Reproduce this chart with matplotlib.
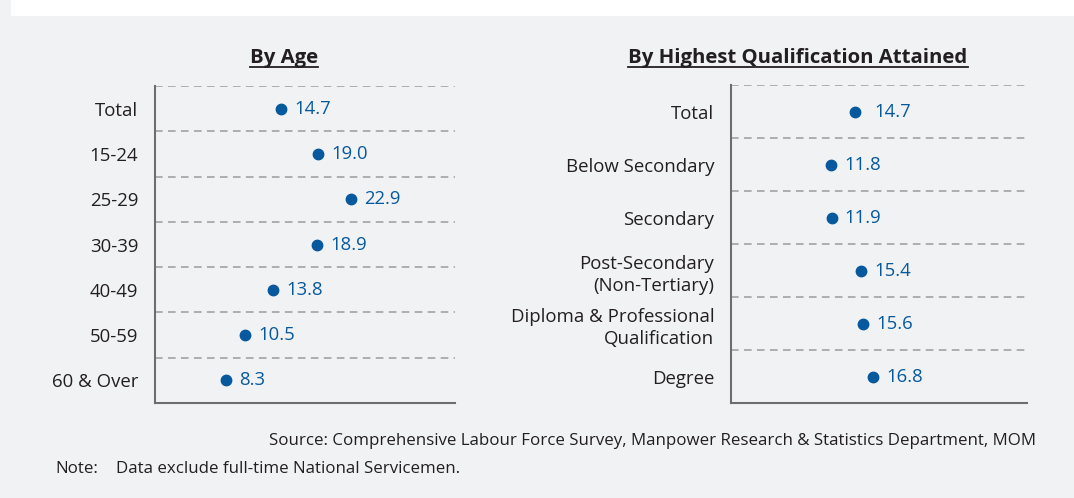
import matplotlib.pyplot as plt
from matplotlib.lines import Line2D
from matplotlib.patches import Rectangle

plt.rcParams['font.family'] = ['Open Sans', 'DejaVu Sans']

# data
age_groups = ['Total', '15-24', '25-29', '30-39', '40-49', '50-59', '60 & Over']
age_values = [14.7, 19.0, 22.9, 18.9, 13.8, 10.5, 8.3]

qual_groups = ['Total', 'Below Secondary', 'Secondary',
               'Post-Secondary\n(Non-Tertiary)',
               'Diploma & Professional\nQualification', 'Degree']
qual_values = [14.7, 11.8, 11.9, 15.4, 15.6, 16.8]

BG = '#f1f2f4'
BLUE = '#07599d'
TXT = '#231f20'
GRID = '#9a9b9d'
SPINE = '#6d6e71'

fig = plt.figure(figsize=(10.74, 4.98), dpi=100, facecolor=BG)
# white band across the top
fig.patches.append(Rectangle((11 / 1074, 1 - 16 / 498), 1, 16 / 498,
                             transform=fig.transFigure, facecolor='white',
                             edgecolor='none', zorder=0))


def dot_panel(rect, cats, vals, label_offsets=None):
    ax = fig.add_axes(rect)
    ax.set_facecolor(BG)
    n = len(cats)
    ys = [i + 0.5 for i in range(n)]
    ax.plot(vals, ys, 'o', color=BLUE, ms=7.5, zorder=3)
    for i, (v, y) in enumerate(zip(vals, ys)):
        off = label_offsets[i] if label_offsets else 9.5
        ax.annotate(f'{v:.1f}', (v, y), xytext=(off, 0), textcoords='offset points',
                    va='center', ha='left', color=BLUE, fontsize=13.3)
    for b in range(n):
        ax.axhline(b, color=GRID, lw=1.1, ls=(0, (5, 3.5)), zorder=1)
    ax.set_xlim(0, 35)
    ax.set_ylim(n, 0)
    ax.set_yticks(ys)
    ax.set_yticklabels(cats, fontsize=13.4, color=TXT, ha='right', ma='right',
                       linespacing=1.3)
    ax.tick_params(axis='y', length=0, pad=12)
    ax.set_xticks([])
    for s in ['top', 'right']:
        ax.spines[s].set_visible(False)
    for s in ['left', 'bottom']:
        ax.spines[s].set_color(SPINE)
        ax.spines[s].set_linewidth(1.5)
    return ax


ax1 = dot_panel([155 / 1074, 1 - 403 / 498, 300 / 1074, 317 / 498], age_groups, age_values)
ax2 = dot_panel([731 / 1074, 1 - 403 / 498, 296 / 1074, 318 / 498], qual_groups, qual_values,
                label_offsets=[14, 9.5, 9.5, 9.5, 9.5, 9.5])

titles = [fig.text(284 / 1074, 1 - 58 / 498, 'By Age', ha='center', va='center',
                   fontsize=14.7, fontweight='bold', color=TXT),
          fig.text(798 / 1074, 1 - 58 / 498, 'By Highest Qualification Attained',
                   ha='center', va='center', fontsize=14.7, fontweight='bold', color=TXT)]

fig.text(1036 / 1074, 1 - 441 / 498,
         'Source: Comprehensive Labour Force Survey, Manpower Research & Statistics Department, MOM',
         ha='right', va='center', fontsize=12.2, color=TXT)
fig.text(55 / 1074, 1 - 469 / 498, 'Note:', ha='left', va='center', fontsize=12.2, color=TXT)
fig.text(116 / 1074, 1 - 469 / 498, 'Data exclude full-time National Servicemen.',
         ha='left', va='center', fontsize=12.2, color=TXT)

# underline the panel titles
fig.canvas.draw()
r = fig.canvas.get_renderer()
for t in titles:
    bb = t.get_window_extent(renderer=r)
    y = (bb.y0 + 1) / fig.bbox.height
    fig.add_artist(Line2D([bb.x0 / fig.bbox.width, bb.x1 / fig.bbox.width], [y, y],
                          transform=fig.transFigure, color=TXT, lw=1.3))

fig.savefig('out.png', dpi=100, facecolor=BG)
